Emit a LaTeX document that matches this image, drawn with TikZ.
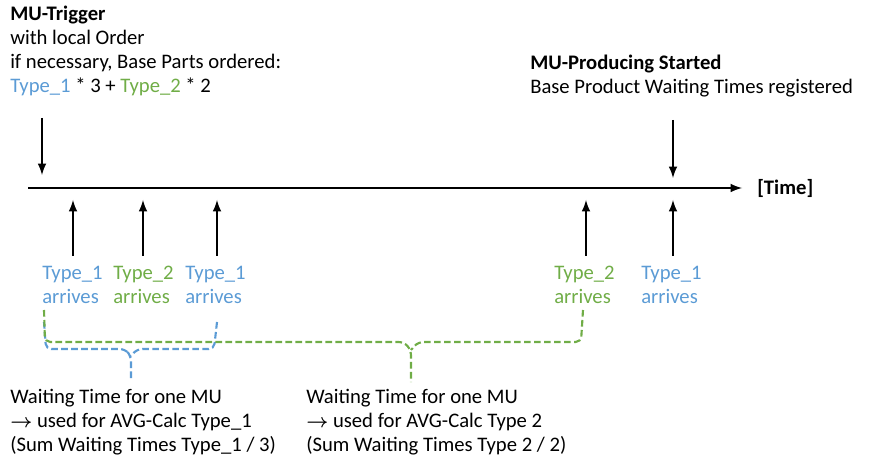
\documentclass[tikz,border=0pt]{standalone}
\usepackage{amsmath}
\usepackage{fontspec}
\setmainfont{Carlito}
\usetikzlibrary{arrows}
\definecolor{tblue}{RGB}{91,155,213}
\definecolor{tgreen}{RGB}{112,173,71}
\begin{document}
\begin{tikzpicture}
[x=0.75pt,y=-0.75pt,>=latex,
 txt/.style={font=\fontsize{15.5}{18}\selectfont,inner sep=0pt,align=left},
 arr/.style={txt},
 tick/.style={->,line width=1.9pt},
 brace/.style={line width=1.6pt,rounded corners=4pt,dash pattern=on 5pt off 2.5pt}]
\useasboundingbox (0,0) rectangle (879,474);
% time axis
\coordinate (t0) at (28,188);
\coordinate (t1) at (742,188);
\draw[tick] (t0) -- (t1);
\node[txt,font=\fontsize{15.5}{18}\selectfont\bfseries,anchor=west] (time) at (757,188) {[Time]};
% top texts
\node[txt,anchor=north west] (trig) at (10,6)
  {\textbf{MU-Trigger}\\with local Order\\if necessary, Base Parts ordered:\\
   \textcolor{tblue}{Type\_1} * 3 + \textcolor{tgreen}{Type\_2} * 2};
\node[txt,anchor=north west] (prod) at (530,55)
  {\textbf{MU-Producing Started}\\Base Product Waiting Times registered};
\coordinate (d1) at (42,118);
\coordinate (e1) at (42,175);
\coordinate (d2) at (673,120);
\coordinate (e2) at (673,178);
\draw[tick] (d1) -- (e1);
\draw[tick] (d2) -- (e2);
% arrivals
\foreach \x/\lx/\c/\t [count=\i] in {73/42/tblue/1,143/113/tgreen/2,217/185/tblue/1,586/554/tgreen/2,673/641/tblue/1}{
  \node[arr,text=\c,anchor=west] (a\i) at (\lx,285) {Type\_\t\\arrives};
  \coordinate (u\i) at (\x,256);
  \coordinate (v\i) at (\x,200);
  \draw[tick] (u\i) -- (v\i);
}
% braces
\draw[brace,tblue] (44,322) -- (46,349) -- (125,349) -- (131,356) -- (131,380);
\draw[brace,tblue] (217,322) -- (214,349) -- (137,349) -- (131,356);
\draw[brace,tgreen] (44,310) -- (45,342) -- (404,342) -- (411,350) -- (411,382);
\draw[brace,tgreen] (583,310) -- (581,342) -- (418,342) -- (411,350);
% bottom texts
\node[txt,anchor=north west] (w1) at (10,389)
  {Waiting Time for one MU\\$\boldsymbol{\rightarrow}$ used for AVG-Calc Type\_1\\(Sum Waiting Times Type\_1 / 3)};
\node[txt,anchor=north west] (w2) at (306,389)
  {Waiting Time for one MU\\$\boldsymbol{\rightarrow}$ used for AVG-Calc Type 2\\(Sum Waiting Times Type 2 / 2)};
\end{tikzpicture}
\end{document}
